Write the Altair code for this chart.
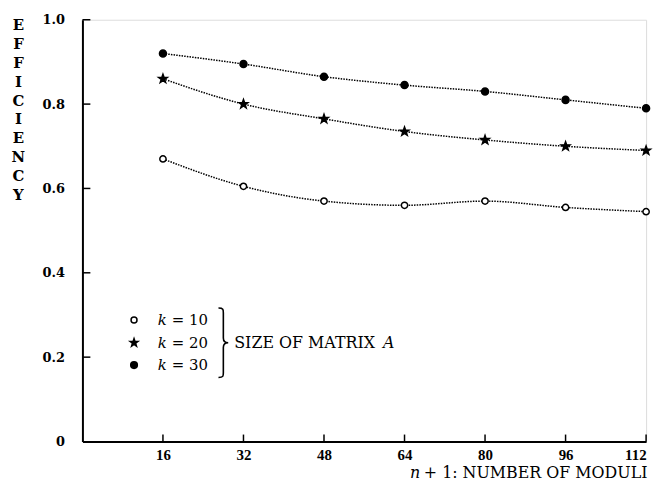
import altair as alt
import pandas as pd

# ---- data ----
moduli = [16, 32, 48, 64, 80, 96, 112]
eff_k10 = [0.67, 0.605, 0.57, 0.56, 0.57, 0.555, 0.545]
eff_k20 = [0.86, 0.80, 0.765, 0.735, 0.715, 0.70, 0.69]
eff_k30 = [0.92, 0.895, 0.865, 0.845, 0.83, 0.81, 0.79]
series_names = ["k = 10", "k = 20", "k = 30"]
y_ticks = [0.2, 0.4, 0.6, 0.8, 1.0]
y_labels = [0, 0.2, 0.4, 0.6, 0.8, 1.0]
x_ticks = [16, 32, 48, 64, 80, 96, 112]

rows = []
for name, vals in zip(series_names, [eff_k10, eff_k20, eff_k30]):
    for m, v in zip(moduli, vals):
        rows.append({"series": name, "moduli": m, "eff": v})
df = pd.DataFrame(rows)

STAR = ("M0,-1L0.235,-0.324L0.951,-0.309L0.380,0.124L0.588,0.809L0,0.4"
        "L-0.588,0.809L-0.380,0.124L-0.951,-0.309L-0.235,-0.324Z")
BRACE = ("M-0.14,-1C0,-1 0,-0.96 0,-0.86L0,-0.14C0,-0.04 0.05,0 0.14,0"
         "C0.05,0 0,0.04 0,0.14L0,0.86C0,0.96 0,1 -0.14,1")

SHAPES = ["circle", STAR, "circle"]
FILLS = ["white", "black", "black"]
SIZES = [40, 85, 50]

W, H = 568, 425
SERIF = "DejaVu Serif"

xs = alt.Scale(domain=[0, 112], nice=False, zero=True)
ys = alt.Scale(domain=[0, 1], nice=False)

x_enc = alt.X("moduli:Q", scale=xs, axis=alt.Axis(
    values=x_ticks, title=None, grid=False, ticks=False, tickSize=0,
    domainColor="black", domainWidth=2, labelPadding=6,
    labelFont="Liberation Serif", labelFontWeight="bold", labelFontSize=15,
    labelColor="black", labelBaseline="top"))
y_enc = alt.Y("eff:Q", scale=ys, axis=alt.Axis(
    values=y_labels, grid=False, ticks=False, tickSize=0,
    domainColor="black", domainWidth=2, labelPadding=18,
    labelFont=SERIF, labelFontWeight="bold", labelFontSize=13,
    labelColor="black",
    labelExpr="datum.value == 0 ? '0' : format(datum.value, '.1f')",
    title=list("EFFICIENCY"), titleAngle=0, titleX=-65, titleY=-2,
    titleAlign="center", titleBaseline="top", titleLineHeight=19,
    titleFont=SERIF, titleFontSize=15, titleFontWeight="bold",
    titleColor="black"))

base = alt.Chart(df)

lines = base.mark_line(interpolate="monotone", color="black",
                       strokeWidth=1.5, strokeDash=[1.5, 1.2]).encode(
    x=x_enc, y=y_enc, detail="series:N")

point_layers = []
for i, name in enumerate(series_names):
    point_layers.append(base.transform_filter(
        alt.datum.series == name).mark_point(
        shape=SHAPES[i], fill=FILLS[i], stroke="black", strokeWidth=1.5,
        size=SIZES[i], opacity=1).encode(x="moduli:Q", y="eff:Q"))

ytick_df = pd.DataFrame({"v": y_ticks})
xtick_df = pd.DataFrame({"m": x_ticks})
yticks = alt.Chart(ytick_df).mark_rule(color="black", strokeWidth=1.5).encode(
    y=alt.Y("v:Q", scale=ys), x=alt.value(0), x2=alt.value(8))
xticks = alt.Chart(xtick_df).mark_rule(color="black", strokeWidth=1.5).encode(
    x=alt.X("m:Q", scale=xs), y=alt.value(H), y2=alt.value(H - 7))

def txt(text, x, y, size=15, style="normal", align="left", baseline="middle"):
    return alt.Chart(pd.DataFrame({"t": [text]})).mark_text(
        font=SERIF, fontSize=size, fontStyle=style, align=align,
        baseline=baseline, color="black").encode(
        text="t:N", x=alt.value(x), y=alt.value(y))

# x-axis title
xt1 = txt("n", 330, 462, size=16, style="italic", baseline="alphabetic")
xt2 = txt("+ 1: NUMBER OF MODULI", 344, 462, size=16, baseline="alphabetic")

# legend
leg_y = [302.5, 325.5, 348]
leg_layers = []
for i, name in enumerate(series_names):
    leg_layers.append(alt.Chart(pd.DataFrame({"a": [0]})).mark_point(
        shape=SHAPES[i], fill=FILLS[i], stroke="black", strokeWidth=1.5,
        size=[36, 70, 45][i], opacity=1).encode(
        x=alt.value(52), y=alt.value(leg_y[i])))
    leg_layers.append(txt("k", 76, leg_y[i], style="italic"))
    leg_layers.append(txt(name.split("k ")[1], 90, leg_y[i]))
brace = alt.Chart(pd.DataFrame({"a": [0]})).mark_point(
    shape=BRACE, filled=False, stroke="black", strokeWidth=1.6,
    size=4900, opacity=1).encode(x=alt.value(142), y=alt.value(325.5))
size_txt = txt("SIZE OF MATRIX", 153, 325.5, size=16)
a_txt = txt("A", 303, 325.5, size=16, style="italic")

chart = alt.layer(lines, *point_layers, yticks, xticks, xt1, xt2,
                  *leg_layers, brace, size_txt, a_txt).properties(
    width=W, height=H,
    autosize=alt.AutoSizeParams(type="none"),
    padding={"left": 75, "top": 10, "right": 12, "bottom": 42},
).configure_view(strokeWidth=0).configure(background="white")

chart.save("out.html", embed_options={"renderer": "svg", "actions": False})
